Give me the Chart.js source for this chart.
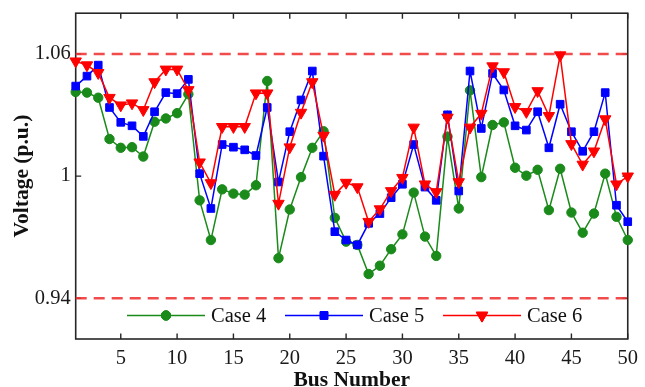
<!DOCTYPE html>
<html>
<head>
<meta charset="utf-8">
<script src="https://cdn.jsdelivr.net/npm/chart.js@4.4.1/dist/chart.umd.min.js"></script>
<style>
html,body{margin:0;padding:0;background:#fff;}
#wrap{width:645px;height:387px;position:relative;}
</style>
</head>
<body>
<div id="wrap"><canvas id="c" width="645" height="387"></canvas></div>
<script>
const buses = Array.from({length:50},(_,i)=>i+1);
const case4 = [1.0413,1.0410,1.0385,1.0182,1.0139,1.0142,1.0096,1.0267,1.0283,1.0309,
               1.0402,0.9881,0.9686,0.9935,0.9914,0.9909,0.9955,1.0467,0.9597,0.9836,
               0.9995,1.0139,1.0220,0.9795,0.9678,0.9662,0.9519,0.9560,0.9641,0.9714,
               0.9919,0.9703,0.9608,1.0194,0.9841,1.0421,0.9995,1.0251,1.0264,1.0041,
               1.0002,1.0031,0.9833,1.0036,0.9821,0.9722,0.9816,1.0012,0.9800,0.9686];
const case5 = [1.0442,1.0491,1.0545,1.0337,1.0264,1.0247,1.0195,1.0316,1.0410,1.0405,
               1.0475,1.0012,0.9841,1.0155,1.0142,1.0129,1.0101,1.0337,0.9971,1.0218,
               1.0374,1.0516,1.0098,0.9727,0.9686,0.9662,0.9768,0.9816,0.9894,0.9960,
               1.0155,0.9946,0.9881,1.0301,0.9927,1.0516,1.0234,1.0504,1.0423,1.0247,
               1.0226,1.0316,1.0139,1.0353,1.0218,1.0122,1.0218,1.0410,0.9857,0.9776];
const case6 = [1.0564,1.0545,1.0507,1.0385,1.0348,1.0358,1.0325,1.0462,1.0524,1.0524,
               1.0423,1.0068,0.9966,1.0242,1.0242,1.0242,1.0407,1.0407,0.9865,1.0142,
               1.0312,1.0462,1.0199,0.9909,0.9968,0.9946,0.9776,0.9838,0.9927,0.9992,
               1.0239,0.9960,0.9922,1.0288,0.9971,1.0239,1.0307,1.0540,1.0511,1.0340,
               1.0316,1.0418,1.0296,1.0594,1.0158,1.0057,1.0122,1.0280,0.9960,0.9999];
const upperLimit = 1.06;
const lowerLimit = 0.94;
const xTicks = [5,10,15,20,25,30,35,40,45,50];
const yTicks = [0.94,1,1.06];
const seriesNames = ['Case 4','Case 5','Case 6'];

const GREEN = '#1a8a1a', BLUE = '#0000ff', RED = '#ff0000', LIMIT = 'rgba(240,55,55,0.9)';
const AXIS = '#262626';
const FONT = "'Liberation Serif', 'Times New Roman', serif";

const pts = arr => buses.map((b,i)=>({x:b, y:arr[i]}));
const limitPts = v => [{x:buses[0], y:v},{x:buses[buses.length-1], y:v}];

const styles = [
  {color:GREEN, pointStyle:'circle', radius:4.7, rotation:0},
  {color:BLUE, pointStyle:'rect', radius:5.4, rotation:0},
  {color:RED, pointStyle:'triangle', radius:6.6, rotation:180}
];

function drawMarker(ctx, st, x, y){
  ctx.save();
  ctx.fillStyle = st.color; ctx.strokeStyle = st.color; ctx.lineWidth = 1;
  if (Chart.helpers && Chart.helpers.drawPoint){
    Chart.helpers.drawPoint(ctx, {pointStyle:st.pointStyle, radius:st.radius, rotation:st.rotation, borderWidth:1}, x, y);
    ctx.fill(); ctx.stroke();
  }
  ctx.restore();
}

const framePlugin = {
  id:'frame',
  beforeDatasetsDraw(chart){
    const {ctx, chartArea:a, scales} = chart;
    ctx.save();
    ctx.strokeStyle = AXIS; ctx.lineWidth = 1.6;
    ctx.strokeRect(a.left, a.top, a.right-a.left, a.bottom-a.top);
    ctx.lineWidth = 1.4;
    const tl = 5.5;
    xTicks.forEach(t=>{
      const x = scales.x.getPixelForValue(t);
      ctx.beginPath();
      ctx.moveTo(x, a.bottom); ctx.lineTo(x, a.bottom - tl);
      ctx.moveTo(x, a.top); ctx.lineTo(x, a.top + tl);
      ctx.stroke();
    });
    yTicks.forEach(t=>{
      const y = scales.y.getPixelForValue(t);
      ctx.beginPath();
      ctx.moveTo(a.left, y); ctx.lineTo(a.left + tl, y);
      ctx.moveTo(a.right, y); ctx.lineTo(a.right - tl, y);
      ctx.stroke();
    });
    ctx.restore();
  },
  afterDraw(chart){
    const {ctx, chartArea:a} = chart;
    ctx.save();
    // axis titles
    ctx.fillStyle = '#111';
    ctx.font = "bold 21.5px " + FONT;
    ctx.textAlign = 'center'; ctx.textBaseline = 'alphabetic';
    ctx.fillText('Bus Number', (a.left+a.right)/2, 386);
    ctx.save();
    ctx.translate(27.5, (a.top+a.bottom)/2);
    ctx.rotate(-Math.PI/2);
    ctx.fillText('Voltage (p.u.)', 0, 0);
    ctx.restore();
    // legend
    const ly = a.bottom - 23.5;
    const starts = [127, 285, 443];
    ctx.font = "20.5px " + FONT;
    ctx.textAlign = 'left'; ctx.textBaseline = 'middle';
    seriesNames.forEach((name,i)=>{
      const st = styles[i];
      const x0 = starts[i];
      ctx.strokeStyle = st.color; ctx.lineWidth = 1.6;
      ctx.beginPath(); ctx.moveTo(x0, ly); ctx.lineTo(x0+78, ly); ctx.stroke();
      drawMarker(ctx, st, x0+39, ly);
      ctx.fillStyle = '#111';
      ctx.fillText(name, x0+84, ly+1);
    });
    ctx.restore();
  }
};

const mkSeries = (arr, i, order) => ({
  label: seriesNames[i],
  data: pts(arr),
  borderColor: styles[i].color,
  backgroundColor: styles[i].color,
  borderWidth: 1.5,
  pointStyle: styles[i].pointStyle,
  pointRadius: styles[i].radius,
  pointRotation: styles[i].rotation,
  pointBorderWidth: 1,
  pointBackgroundColor: styles[i].color,
  pointBorderColor: styles[i].color,
  tension: 0,
  clip: false,
  order: order
});
const mkLimit = v => ({
  label:'limit', data: limitPts(v), borderColor: LIMIT, borderWidth: 2.6,
  borderDash:[11,7], pointRadius:0, tension:0, order: 5, clip:false
});

new Chart(document.getElementById('c'), {
  type:'line',
  data:{
    datasets:[
      mkLimit(upperLimit), mkLimit(lowerLimit),
      mkSeries(case4,0,3), mkSeries(case5,1,2), mkSeries(case6,2,1)
    ]
  },
  options:{
    responsive:false, animation:false, devicePixelRatio:1,
    layout:{padding:{top:13, right:12.2, left:0, bottom:0}},
    plugins:{legend:{display:false}, tooltip:{enabled:false}},
    elements:{line:{borderCapStyle:'butt'}},
    scales:{
      x:{
        type:'linear', min:1, max:50,
        afterBuildTicks: s => { s.ticks = xTicks.map(v=>({value:v})); },
        afterFit: s => { s.height = 48; },
        grid:{display:false, drawTicks:false}, border:{display:false},
        ticks:{font:{family:FONT, size:20.5}, color:'#1a1a1a', padding:7, maxRotation:0,
               callback: v => String(v)}
      },
      y:{
        type:'linear', min:0.92, max:1.08,
        afterBuildTicks: s => { s.ticks = yTicks.map(v=>({value:v})); },
        afterFit: s => { s.width = 75.7; },
        grid:{display:false, drawTicks:false}, border:{display:false},
        ticks:{font:{family:FONT, size:20.5, lineHeight:0.8}, color:'#1a1a1a', padding:5,
               callback: v => String(+(+v).toFixed(2))}
      }
    }
  },
  plugins:[framePlugin]
});
</script>
</body>
</html>
